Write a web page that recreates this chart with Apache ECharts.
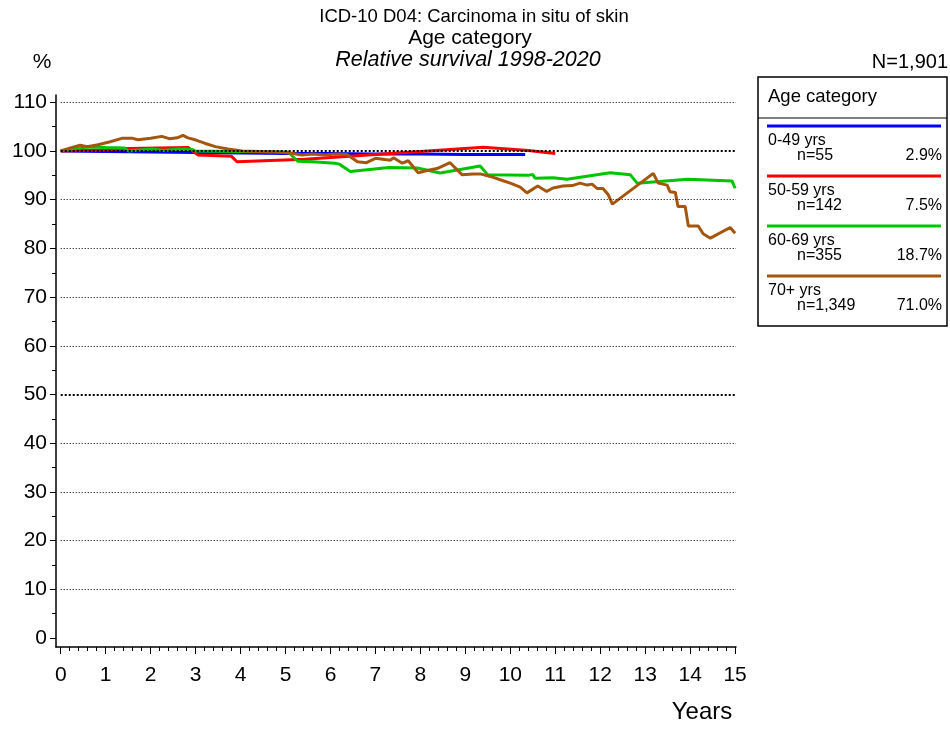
<!DOCTYPE html>
<html>
<head>
<meta charset="utf-8">
<script src="https://cdn.jsdelivr.net/npm/echarts@6/dist/echarts.min.js"></script>
<style>
  html, body { margin: 0; padding: 0; background: #fff; }
  #main { width: 950px; height: 729px; }
</style>
</head>
<body>
<div id="main"></div>
<script>
  // survival curves, [years, relative survival %]
  var surv0049 = [[0, 100], [1, 99.9], [2, 99.8], [3, 99.7], [4, 99.6], [5, 99.5], [6, 99.5], [7, 99.4],
    [8, 99.4], [9, 99.3], [10.33, 99.3]];
  var surv5059 = [[0, 100], [0.5, 100.1], [1.0, 100.2], [1.5, 100.5], [2.84, 100.7], [3.05, 99.2], [3.8, 98.9],
    [3.92, 97.8], [5.43, 98.3], [9.4, 100.75], [10.4, 100.1], [11.0, 99.5]];
  var surv6069 = [[0, 100], [0.3, 100.5], [0.6, 100.8], [1.0, 100.7], [1.43, 100.6], [1.5, 100.0], [2.03, 100.4],
    [2.3, 100.1], [2.6, 100.4], [2.93, 100.3], [3.0, 100.0], [4.0, 99.9], [5.06, 99.8], [5.27, 97.9], [5.6, 97.8],
    [6.1, 97.5], [6.2, 97.3], [6.44, 95.8], [7.3, 96.6], [7.93, 96.5], [8.44, 95.5], [9.33, 96.9], [9.5, 95.1],
    [10.4, 95.0], [10.5, 95.2], [10.55, 94.4], [10.95, 94.5], [11.26, 94.2], [12.22, 95.55], [12.67, 95.1],
    [12.82, 93.4], [13.95, 94.2], [14.93, 93.85], [15.0, 92.35]];
  var surv70 = [[0, 100], [0.2, 100.6], [0.43, 101.2], [0.59, 100.9], [0.83, 101.3], [1.1, 101.9], [1.36, 102.6],
    [1.6, 102.6], [1.72, 102.3], [2.0, 102.6], [2.25, 103.0], [2.43, 102.5], [2.59, 102.7], [2.72, 103.2],
    [2.83, 102.7], [2.99, 102.3], [3.2, 101.6], [3.44, 100.9], [3.72, 100.4], [4.03, 100.0], [4.4, 99.9],
    [4.8, 99.8], [5.1, 99.6], [5.37, 99.2], [5.6, 99.4], [5.9, 99.2], [6.1, 99.4], [6.37, 99.3], [6.6, 97.8],
    [6.8, 97.6], [7.0, 98.5], [7.33, 98.1], [7.4, 98.6], [7.6, 97.5], [7.73, 98.0], [7.95, 95.55], [8.15, 96.0],
    [8.37, 96.4], [8.66, 97.6], [8.93, 95.1], [9.17, 95.3], [9.33, 95.3], [9.62, 94.6], [9.84, 93.9],
    [10.0, 93.4], [10.22, 92.6], [10.37, 91.4], [10.61, 92.8], [10.81, 91.7], [10.95, 92.4], [11.17, 92.8],
    [11.38, 92.9], [11.55, 93.4], [11.71, 93.0], [11.82, 93.2], [11.93, 92.3], [12.06, 92.3], [12.18, 91.0],
    [12.27, 89.1], [13.18, 95.4], [13.29, 93.4], [13.49, 93.0], [13.55, 91.65], [13.67, 91.5], [13.73, 88.6],
    [13.89, 88.6], [13.96, 84.6], [14.18, 84.6], [14.29, 83.0], [14.45, 82.1], [14.89, 84.3], [15.0, 83.1]];

  var ageGroups = ['0-49 yrs', '50-59 yrs', '60-69 yrs', '70+ yrs'];
  var groupN = ['n=55', 'n=142', 'n=355', 'n=1,349'];
  var groupPct = ['2.9%', '7.5%', '18.7%', '71.0%'];
  var totalN = 'N=1,901';

  // ticks
  var yearTicks = [0, 1, 2, 3, 4, 5, 6, 7, 8, 9, 10, 11, 12, 13, 14, 15];
  var pctTicks = [0, 10, 20, 30, 40, 50, 60, 70, 80, 90, 100, 110];
  var pctMinor = [5, 15, 25, 35, 45, 55, 65, 75, 85, 95, 105];
  var thinGrid = [10, 20, 30, 40, 60, 70, 80, 90, 110];
  var boldGrid = [50, 100];

  var yearMinor = [];
  yearTicks.slice(0, -1).forEach(function (t) {
    for (var k = 1; k < 5; k++) yearMinor.push(t + k / 5);
  });

  var colors = ['#0000ff', '#ff0000', '#00c400', '#a5560c'];
  var curves = [surv0049, surv5059, surv6069, surv70];
  var font = 'Liberation Sans, Arial, sans-serif';

  var xMin = -0.105, xMax = 15.02, yMin = -1.85, yMax = 111.5;

  var myChart = echarts.init(document.getElementById('main'));

  // legend box drawn by hand
  var legendEls = [
    { type: 'rect', shape: { x: 758, y: 77, width: 189, height: 249 },
      style: { fill: '#fff', stroke: '#000', lineWidth: 1.5 } },
    { type: 'line', shape: { x1: 758, y1: 118, x2: 947, y2: 118 }, style: { stroke: '#000', lineWidth: 1 } },
    { type: 'text', x: 768, y: 97, style: { text: 'Age category', font: '18.5px ' + font, fill: '#000',
      textVerticalAlign: 'middle' } }
  ];
  ageGroups.forEach(function (g, i) {
    var y0 = 126 + 50 * i;
    legendEls.push(
      { type: 'line', shape: { x1: 767, y1: y0, x2: 941, y2: y0 }, style: { stroke: colors[i], lineWidth: 3 } },
      { type: 'text', x: 768, y: y0 + 15, style: { text: g, font: '16px ' + font, fill: '#000', textVerticalAlign: 'middle' } },
      { type: 'text', x: 797, y: y0 + 30, style: { text: groupN[i], font: '16px ' + font, fill: '#000', textVerticalAlign: 'middle' } },
      { type: 'text', x: 942, y: y0 + 30, style: { text: groupPct[i], font: '16px ' + font, fill: '#000',
        textAlign: 'right', textVerticalAlign: 'middle' } }
    );
  });

  var titleEls = [
    { type: 'text', x: 474, y: 17, style: { text: 'ICD-10 D04: Carcinoma in situ of skin', font: '18.5px ' + font,
      fill: '#000', textAlign: 'center', textVerticalAlign: 'middle' } },
    { type: 'text', x: 470, y: 38, style: { text: 'Age category', font: '21px ' + font,
      fill: '#000', textAlign: 'center', textVerticalAlign: 'middle' } },
    { type: 'text', x: 468, y: 60, style: { text: 'Relative survival 1998-2020', font: 'italic 21.5px ' + font,
      fill: '#000', textAlign: 'center', textVerticalAlign: 'middle' } },
    { type: 'text', x: 42, y: 62, style: { text: '%', font: '21px ' + font,
      fill: '#000', textAlign: 'center', textVerticalAlign: 'middle' } },
    { type: 'text', x: 948, y: 62, style: { text: totalN, font: '20px ' + font,
      fill: '#000', textAlign: 'right', textVerticalAlign: 'middle' } },
    { type: 'text', x: 702, y: 712, style: { text: 'Years', font: '24px ' + font,
      fill: '#000', textAlign: 'center', textVerticalAlign: 'middle' } }
  ];

  function gridLines(vals) {
    return vals.map(function (v) { return [{ coord: [0, v] }, { coord: [xMax, v] }]; });
  }

  var series = curves.map(function (c, i) {
    return {
      name: ageGroups[i],
      type: 'line',
      data: c,
      showSymbol: false,
      silent: true,
      z: 3,
      lineStyle: { color: colors[i], width: 3 }
    };
  });
  // dotted grid lines, heavier at 50 and 100
  series.push({
    type: 'line', data: [], z: 2,
    markLine: {
      silent: true, symbol: 'none', label: { show: false },
      lineStyle: { color: '#000', width: 1, type: [1, 2] },
      data: gridLines(thinGrid)
    }
  });
  series.push({
    type: 'line', data: [], z: 4,
    markLine: {
      silent: true, symbol: 'none', label: { show: false },
      lineStyle: { color: '#000', width: 2, type: [2, 2] },
      data: gridLines(boldGrid)
    }
  });

  var option = {
    animation: false,
    textStyle: { fontFamily: font },
    grid: { left: 56, right: 214, top: 95, bottom: 82 },
    xAxis: [
      {
        type: 'value', min: xMin, max: xMax,
        axisLine: { show: true, onZero: false, lineStyle: { color: '#000', width: 1.5 } },
        axisTick: { show: true, length: 7, customValues: yearTicks, lineStyle: { color: '#000' } },
        splitLine: { show: false },
        axisLabel: { color: '#000', fontSize: 21, margin: 18, customValues: yearTicks }
      },
      {
        type: 'value', min: xMin, max: xMax, position: 'bottom',
        axisLine: { show: false, onZero: false },
        axisTick: { show: true, length: 4, customValues: yearMinor, lineStyle: { color: '#000' } },
        splitLine: { show: false },
        axisLabel: { show: false }
      }
    ],
    yAxis: [
      {
        type: 'value', min: yMin, max: yMax,
        axisLine: { show: true, onZero: false, lineStyle: { color: '#000', width: 1.5 } },
        axisTick: { show: true, length: 6, customValues: pctTicks, lineStyle: { color: '#000' } },
        splitLine: { show: false },
        axisLabel: { color: '#000', fontSize: 21, margin: 9, customValues: pctTicks }
      },
      {
        type: 'value', min: yMin, max: yMax, position: 'left',
        axisLine: { show: false, onZero: false },
        axisTick: { show: true, length: 4, customValues: pctMinor, lineStyle: { color: '#000' } },
        splitLine: { show: false },
        axisLabel: { show: false }
      }
    ],
    graphic: titleEls.concat(legendEls),
    series: series
  };

  myChart.setOption(option);
</script>
</body>
</html>
